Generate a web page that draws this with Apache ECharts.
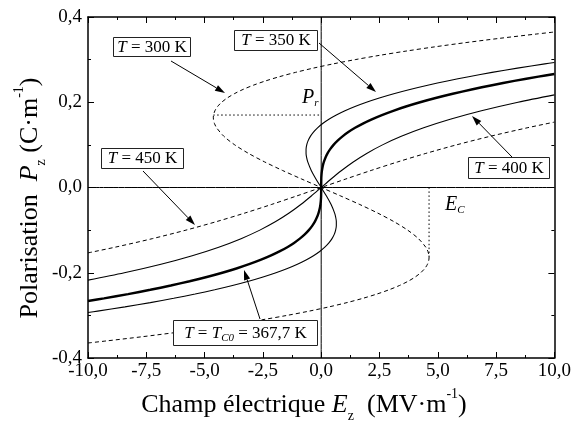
<!DOCTYPE html>
<html>
<head>
<meta charset="utf-8">
<script src="https://cdn.jsdelivr.net/npm/echarts@6.0.0/dist/echarts.min.js"></script>
<style>
html, body { margin: 0; padding: 0; background: #fff; }
#chart { width: 574px; height: 423px; }
</style>
</head>
<body>
<div id="chart"></div>
<script>
// tick values
const xTicks = { min: -10, max: 10, step: 2.5 }
const yTicks = { min: -0.4, max: 0.4, step: 0.2 }

// curves, [E (MV/m), P (C/m)]
const curve300 = [
  [-10.0, -0.3648], [-9.220, -0.36], [-7.662, -0.35], [-6.213, -0.34], [-4.872, -0.33], [-3.634, -0.32],
  [-2.498, -0.31], [-1.458, -0.30], [-0.513, -0.29], [0.341, -0.28], [1.107, -0.27], [1.788, -0.26],
  [2.388, -0.25], [2.908, -0.24], [3.354, -0.23], [3.726, -0.22], [4.030, -0.21], [4.268, -0.20],
  [4.443, -0.19], [4.558, -0.18], [4.617, -0.17], [4.626, -0.165], [4.622, -0.16], [4.577, -0.15],
  [4.484, -0.14], [4.171, -0.12], [3.706, -0.10], [3.116, -0.08], [2.425, -0.06], [1.659, -0.04],
  [0.842, -0.02], [0, 0], [-0.842, 0.02], [-1.659, 0.04], [-2.425, 0.06], [-3.116, 0.08],
  [-3.706, 0.10], [-4.171, 0.12], [-4.484, 0.14], [-4.577, 0.15], [-4.622, 0.16], [-4.626, 0.165],
  [-4.617, 0.17], [-4.558, 0.18], [-4.443, 0.19], [-4.268, 0.20], [-4.030, 0.21], [-3.726, 0.22],
  [-3.354, 0.23], [-2.908, 0.24], [-2.388, 0.25], [-1.788, 0.26], [-1.107, 0.27], [-0.341, 0.28],
  [0.513, 0.29], [1.458, 0.30], [2.498, 0.31], [3.634, 0.32], [4.872, 0.33], [6.213, 0.34],
  [7.662, 0.35], [9.220, 0.36], [10.0, 0.3648]
]
const curve350 = [
  [-10.0, -0.2933], [-9.591, -0.29], [-8.415, -0.28], [-7.327, -0.27], [-6.325, -0.26], [-5.406, -0.25],
  [-4.567, -0.24], [-3.804, -0.23], [-3.113, -0.22], [-2.493, -0.21], [-1.940, -0.20], [-1.450, -0.19],
  [-1.021, -0.18], [-0.649, -0.17], [-0.331, -0.16], [-0.064, -0.15], [0.156, -0.14], [0.331, -0.13],
  [0.464, -0.12], [0.560, -0.11], [0.620, -0.10], [0.649, -0.09], [0.649, -0.08], [0.623, -0.07],
  [0.576, -0.06], [0.426, -0.04], [0.226, -0.02], [0, 0], [-0.226, 0.02], [-0.426, 0.04],
  [-0.576, 0.06], [-0.623, 0.07], [-0.649, 0.08], [-0.649, 0.09], [-0.620, 0.10], [-0.560, 0.11],
  [-0.464, 0.12], [-0.331, 0.13], [-0.156, 0.14], [0.064, 0.15], [0.331, 0.16], [0.649, 0.17],
  [1.021, 0.18], [1.450, 0.19], [1.940, 0.20], [2.493, 0.21], [3.113, 0.22], [3.804, 0.23],
  [4.567, 0.24], [5.406, 0.25], [6.325, 0.26], [7.327, 0.27], [8.415, 0.28], [9.591, 0.29],
  [10.0, 0.2933]
]
const curveTc0 = [
  [-10.0, -0.2662], [-9.315, -0.26], [-8.281, -0.25], [-7.327, -0.24], [-6.449, -0.23], [-5.643, -0.22],
  [-4.908, -0.21], [-4.240, -0.20], [-3.635, -0.19], [-3.091, -0.18], [-2.604, -0.17], [-2.171, -0.16],
  [-1.789, -0.15], [-1.454, -0.14], [-1.164, -0.13], [-0.916, -0.12], [-0.705, -0.11], [-0.530, -0.10],
  [-0.386, -0.09], [-0.271, -0.08], [-0.182, -0.07], [-0.115, -0.06], [-0.066, -0.05], [-0.034, -0.04],
  [-0.014, -0.03], [-0.004, -0.02], [0, 0], [0.004, 0.02], [0.014, 0.03], [0.034, 0.04],
  [0.066, 0.05], [0.115, 0.06], [0.182, 0.07], [0.271, 0.08], [0.386, 0.09], [0.530, 0.10],
  [0.705, 0.11], [0.916, 0.12], [1.164, 0.13], [1.454, 0.14], [1.789, 0.15], [2.171, 0.16],
  [2.604, 0.17], [3.091, 0.18], [3.635, 0.19], [4.240, 0.20], [4.908, 0.21], [5.643, 0.22],
  [6.449, 0.23], [7.327, 0.24], [8.281, 0.25], [9.315, 0.26], [10.0, 0.2662]
]
const curve400 = [
  [-10.0, -0.2173], [-8.440, -0.20], [-6.871, -0.18], [-5.531, -0.16], [-4.394, -0.14], [-3.436, -0.12],
  [-2.630, -0.10], [-1.951, -0.08], [-1.375, -0.06], [-0.874, -0.04], [-0.424, -0.02], [0, 0],
  [0.424, 0.02], [0.874, 0.04], [1.375, 0.06], [1.951, 0.08], [2.630, 0.10], [3.436, 0.12],
  [4.394, 0.14], [5.531, 0.16], [6.871, 0.18], [8.440, 0.20], [10.0, 0.2173]
]
const curve450 = [
  [-10.0, -0.1534], [-8.832, -0.14], [-7.240, -0.12], [-5.800, -0.10], [-4.487, -0.08], [-3.277, -0.06],
  [-2.142, -0.04], [-1.058, -0.02], [0, 0], [1.058, 0.02], [2.142, 0.04], [3.277, 0.06],
  [4.487, 0.08], [5.800, 0.10], [7.240, 0.12], [8.832, 0.14], [10.0, 0.1534]
]
// remanent polarisation and coercive field guides
const prLine = [[-4.626, 0.17], [0, 0.17]]
const ecLine = [[4.626, 0], [4.626, -0.166]]
const zeroH = [[-10, 0], [10, 0]]
const zeroV = [[0, -0.4], [0, 0.4]]

const FONT = '"Liberation Serif", "Times New Roman", serif'
const fmt = v => v.toFixed(1).replace('.', ',')

function axisX(pos, labels) {
  return {
    type: 'value', position: pos, min: xTicks.min, max: xTicks.max, interval: xTicks.step,
    axisLine: { onZero: false, lineStyle: { color: '#000', width: 1.5 } },
    axisTick: { inside: true, length: 6, lineStyle: { color: '#000', width: 1 } },
    minorTick: { show: true, splitNumber: 2, length: 3, lineStyle: { color: '#000', width: 1 } },
    splitLine: { show: false },
    axisLabel: { show: labels, formatter: fmt, color: '#000', fontFamily: FONT, fontSize: 19, margin: 4 }
  }
}
function axisY(pos, labels) {
  return {
    type: 'value', position: pos, min: yTicks.min, max: yTicks.max, interval: yTicks.step,
    axisLine: { onZero: false, lineStyle: { color: '#000', width: 1.5 } },
    axisTick: { inside: true, length: 6, lineStyle: { color: '#000', width: 1 } },
    minorTick: { show: true, splitNumber: 2, length: 3, lineStyle: { color: '#000', width: 1 } },
    splitLine: { show: false },
    axisLabel: { show: labels, formatter: fmt, color: '#000', fontFamily: FONT, fontSize: 19, margin: 6 }
  }
}

function line(data, width, type) {
  return {
    type: 'line', data: data, symbol: 'none', smooth: 0.3, silent: true,
    lineStyle: { color: '#000', width: width, type: type }
  }
}

const rich = {
  i: { fontFamily: FONT, fontStyle: 'italic', fontSize: 17, lineHeight: 20, verticalAlign: 'middle' },
  n: { fontFamily: FONT, fontSize: 17, lineHeight: 20, verticalAlign: 'middle' },
  s: { fontFamily: FONT, fontStyle: 'italic', fontSize: 11, lineHeight: 10, verticalAlign: 'bottom' }
}

function box(x, y, w, h, text) {
  return [
    { type: 'rect', z: 100, shape: { x: x + 0.5, y: y + 0.5, width: w, height: h },
      style: { fill: '#fff', stroke: '#222', lineWidth: 1 } },
    { type: 'text', z: 101, x: x + w / 2 + 0.5, y: y + h / 2 + 1,
      style: { text: text, align: 'center', verticalAlign: 'middle', fontFamily: FONT, fontSize: 17,
        lineHeight: 20, fill: '#000', rich: rich } }
  ]
}

function arrow(x1, y1, x2, y2) {
  const a = Math.atan2(y2 - y1, x2 - x1)
  const L = 10, W = 3.2
  const bx = x2 - L * Math.cos(a), by = y2 - L * Math.sin(a)
  const px = -Math.sin(a) * W, py = Math.cos(a) * W
  return [
    { type: 'line', z: 100, shape: { x1: x1, y1: y1, x2: bx, y2: by }, style: { stroke: '#000', lineWidth: 1 } },
    { type: 'polygon', z: 100, shape: { points: [[x2, y2], [bx + px, by + py], [bx - px, by - py]] },
      style: { fill: '#000' } }
  ]
}

const titleRich = {
  n: { fontFamily: FONT, fontSize: 26, lineHeight: 36, verticalAlign: 'middle' },
  i: { fontFamily: FONT, fontStyle: 'italic', fontSize: 26, lineHeight: 36, verticalAlign: 'middle' },
  sub: { fontFamily: FONT, fontSize: 14, lineHeight: 14, verticalAlign: 'bottom' },
  sup: { fontFamily: FONT, fontSize: 14, lineHeight: 18, verticalAlign: 'top' }
}

const graphics = [].concat(
  box(113, 37, 77, 19, '{i|T}{n| = 300 K}'),
  arrow(171, 61, 225, 93),
  box(234, 30, 83, 20, '{i|T}{n| = 350 K}'),
  arrow(319, 43, 376, 92),
  box(468, 157, 81, 21, '{i|T}{n| = 400 K}'),
  arrow(512, 157, 472, 116),
  box(101, 148, 82, 20, '{i|T}{n| = 450 K}'),
  arrow(143, 171, 195, 225),
  box(173, 320, 144, 25, '{i|T}{n| = }{i|T}{s|C0}{n| = 367,7 K}'),
  arrow(260, 319, 244, 270),
  [
    { type: 'text', z: 101, x: 302, y: 98,
      style: { text: '{i|P}{s|r}', align: 'left', verticalAlign: 'middle', lineHeight: 20,
        rich: { i: { fontFamily: FONT, fontStyle: 'italic', fontSize: 20, lineHeight: 22, verticalAlign: 'middle' },
                s: { fontFamily: FONT, fontStyle: 'italic', fontSize: 11, lineHeight: 11, verticalAlign: 'bottom' } } } },
    { type: 'text', z: 101, x: 445, y: 205,
      style: { text: '{i|E}{s|C}', align: 'left', verticalAlign: 'middle', lineHeight: 20,
        rich: { i: { fontFamily: FONT, fontStyle: 'italic', fontSize: 20, lineHeight: 22, verticalAlign: 'middle' },
                s: { fontFamily: FONT, fontStyle: 'italic', fontSize: 11, lineHeight: 11, verticalAlign: 'bottom' } } } },
    { type: 'text', z: 101, x: 304, y: 405,
      style: { text: '{n|Champ électrique }{i|E}{sub|z}{n|  (MV·m}{sup|-1}{n|)}', align: 'center',
        verticalAlign: 'middle', lineHeight: 36, rich: titleRich } },
    { type: 'text', z: 101, x: 30, y: 198, rotation: Math.PI / 2,
      style: { text: '{n|Polarisation  }{i|P}{sub|z}{n| (C·m}{sup|-1}{n|)}', align: 'center',
        verticalAlign: 'middle', lineHeight: 36, rich: titleRich } }
  ]
)

const chart = echarts.init(document.getElementById('chart'))
chart.setOption({
  animation: false,
  backgroundColor: '#fff',
  grid: { left: 88, right: 18, top: 17, bottom: 65 },
  xAxis: [axisX('bottom', true), axisX('top', false)],
  yAxis: [axisY('left', true), axisY('right', false)],
  series: [
    line(zeroH, 1, 'solid'),
    line(zeroV, 1, 'solid'),
    line(prLine, 1, [1.5, 2.5]),
    line(ecLine, 1, [1.5, 2.5]),
    line(curve300, 1, [4, 3]),
    line(curve350, 1.1, 'solid'),
    line(curveTc0, 2.4, 'solid'),
    line(curve400, 1.1, 'solid'),
    line(curve450, 1, [4, 3])
  ],
  graphic: graphics
})
</script>
</body>
</html>
